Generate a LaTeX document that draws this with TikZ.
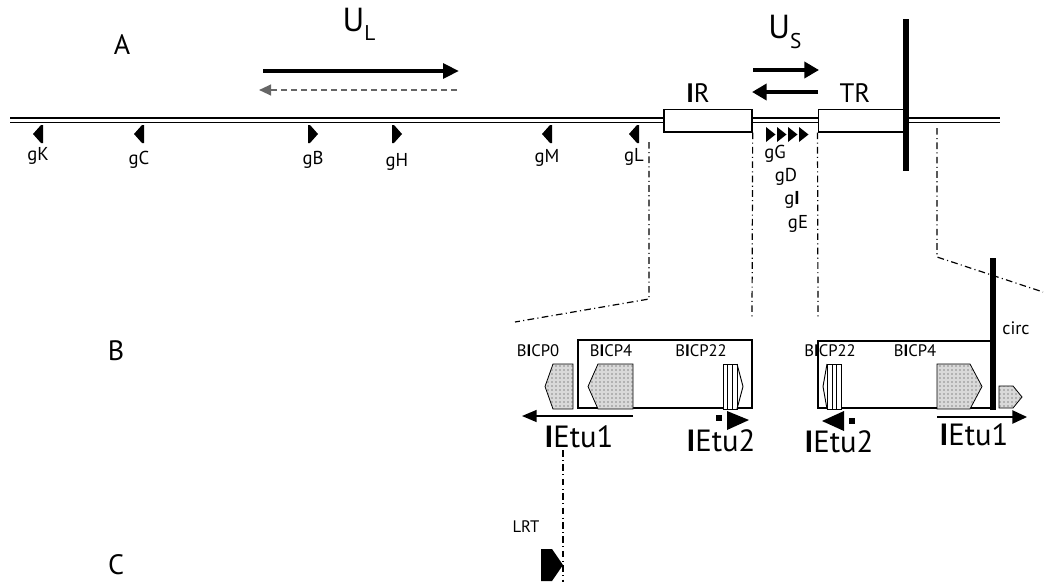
\documentclass[tikz,border=0pt]{standalone}
\usepackage{fontspec}
\setmainfont{PT Sans}
\usetikzlibrary{arrows.meta, patterns}

\newcommand{\fsz}[1]{\fontsize{#1}{#1}\selectfont}
\newcommand{\bI}{\textbf{I}}

\begin{document}
\begin{tikzpicture}[x=0.75pt, y=-0.75pt,
    txt/.style={inner sep=0pt, font=\fsz{14}},
    small/.style={inner sep=0pt, font=\fsz{12.5}},
    big/.style={inner sep=0pt, font=\fsz{23}},
    guide/.style={line width=0.9pt, dash pattern=on 5pt off 2.5pt on 0.8pt off 2.5pt},
    stipple/.style={draw=black, line width=0.6pt, fill=gray!30, postaction={pattern=dots, pattern color=black!80}},
    rbox/.style={draw, line width=1pt, fill=white, inner sep=0pt}]
  \useasboundingbox (0,0) rectangle (1049,582);
  % Panel letters
  \node[inner sep=0pt, font=\fsz{21}] (pA) at (122,45) {A};
  \node[inner sep=0pt, font=\fsz{21}] (pB) at (116,351) {B};
  \node[inner sep=0pt, font=\fsz{21}] (pC) at (116,565) {C};
  % Genome (double line)
  \draw[line width=1.4pt] (10,118) -- (1000,118);
  \draw[line width=1.4pt] (10,122.5) -- (1000,122.5);
  % Repeats
  \node[rbox, minimum width=66pt, minimum height=17pt] (IR) at (708,120.5) {};
  \node[rbox, minimum width=65pt, minimum height=17pt] (TR) at (861.5,120.5) {};
  \node[inner sep=0pt, font=\fsz{20}] (IRlbl) at (698,93) {\bI R};
  \node[inner sep=0pt, font=\fsz{20}] (TRlbl) at (855,93) {TR};
  \draw[line width=5.2pt] (906,19) -- (906,171);
  % U_L and U_S
  \node[inner sep=0pt, font=\fsz{25}] (UL) at (359,24) {U\raisebox{-0.55ex}{\fsz{16}L}};
  \node[inner sep=0pt, font=\fsz{25}] (US) at (785,32) {U\raisebox{-0.55ex}{\fsz{16}S}};
  \draw[line width=3pt, -{Triangle[length=12pt, width=11pt]}] (263,71) -- (459,71);
  \draw[gray!80!black, line width=1.5pt, dash pattern=on 4.5pt off 3pt,
    -{Triangle[length=9pt, width=8pt]}] (457,90) -- (259,90);
  \draw[line width=3.6pt, -{Triangle[length=11pt, width=12pt]}] (753,70) -- (819,70);
  \draw[line width=3.6pt, -{Triangle[length=11pt, width=12pt]}] (818,92) -- (752,92);
  % Genes, left pointing
  \foreach \x/\y/\g in {39/156/gK, 140/160/gC, 548/158/gM, 635/157/gL} {
    \fill (\x+4,125) -- (\x+4,143) -- (\x+2,143) -- (\x-6,134) -- (\x+2,125) -- cycle;
    \node[txt] (\g) at (\x-1,\y) {\g};
  }
  % Genes, right pointing
  \foreach \x/\y/\g in {312/160/gB, 396/162/gH} {
    \fill (\x-4,125) -- (\x-4,143) -- (\x-2,143) -- (\x+6,134) -- (\x-2,125) -- cycle;
    \node[txt] (\g) at (\x+1,\y) {\g};
  }
  \foreach \x in {766, 777, 788, 799}
    \fill (\x,127) -- (\x,142) -- (\x+9.5,134.5) -- cycle;
  \node[txt] (gG) at (775,154) {gG};
  \node[txt] (gD) at (786,177) {gD};
  \node[txt] (gI) at (792,200) {g\bI};
  \node[txt] (gE) at (798,224) {gE};
  % Expansion guides
  \draw[guide] (649,142) -- (649,299) -- (515,322);
  \draw[guide] (IR.south east) -- (752,318);
  \draw[guide] (TR.south west) -- (818,318);
  \draw[guide] (937,128) -- (937,257) -- (1043,292);
  % B: left end
  \draw[line width=1pt] (578,340) rectangle (752,408);
  \node[small] (B0) at (538,351) {B\bI CP0};
  \node[small] (B4L) at (611,351) {B\bI CP4};
  \node[small] (B22L) at (701,351) {B\bI CP22};
  \draw[stipple] (553,364) -- (573,364) -- (573,409) -- (553,409) -- (545,386.5) -- cycle;
  \draw[stipple] (598,364) -- (633,364) -- (633,409) -- (598,409) -- (588,386.5) -- cycle;
  \draw[line width=0.7pt, fill=white] (723,364) rectangle (737,409);
  \draw[line width=0.7pt] (727,364) -- (727,409) (732,364) -- (732,409);
  \draw[line width=0.7pt] (737,364) -- (743,386.5) -- (737,409);
  \draw[line width=1.1pt, -{Triangle[length=11pt, width=9pt]}] (633,416) -- (522,416);
  \node[big] (E1L) at (579,437) {\bI Etu1};
  \fill (716,415) rectangle (722,421);
  \fill (727,411) -- (749,420) -- (727,430) -- cycle;
  \node[big] (E2L) at (721,441) {\bI Etu2};
  % B: right end
  \draw[line width=1pt] (993,341) -- (818,341) -- (818,408) -- (993,408);
  \node[small] (B22R) at (830,351) {B\bI CP22};
  \node[small] (B4R) at (915,351) {B\bI CP4};
  \draw[stipple] (937,364) -- (970,364) -- (982,386.5) -- (970,409) -- (937,409) -- cycle;
  \draw[stipple] (999,386) -- (1013,386) -- (1022,397) -- (1013,408) -- (999,408) -- cycle;
  \draw[line width=0.7pt, fill=white] (827,364) rectangle (841,409);
  \draw[line width=0.7pt] (832,364) -- (832,409) (836,364) -- (836,409);
  \draw[line width=0.7pt] (827,364) -- (823,386.5) -- (827,409);
  \draw[line width=5pt] (993,258) -- (993,410);
  \node[inner sep=0pt, font=\fsz{13.5}] (circ) at (1016,328) {circ};
  \fill (844,411) -- (822,421) -- (844,431) -- cycle;
  \fill (849,418) rectangle (855,424);
  \node[big] (E2R) at (839,442) {\bI Etu2};
  \draw[line width=1.1pt, -{Triangle[length=11pt, width=10pt]}] (937,417) -- (1027,417);
  \node[big] (E1R) at (974,435) {\bI Etu1};
  % C
  \draw[guide] (563,450) -- (563,582);
  \node[small] (LRT) at (526,527) {LRT};
  \fill (541,549) -- (552,549) -- (563,565) -- (552,581) -- (541,581) -- cycle;
\end{tikzpicture}
\end{document}
